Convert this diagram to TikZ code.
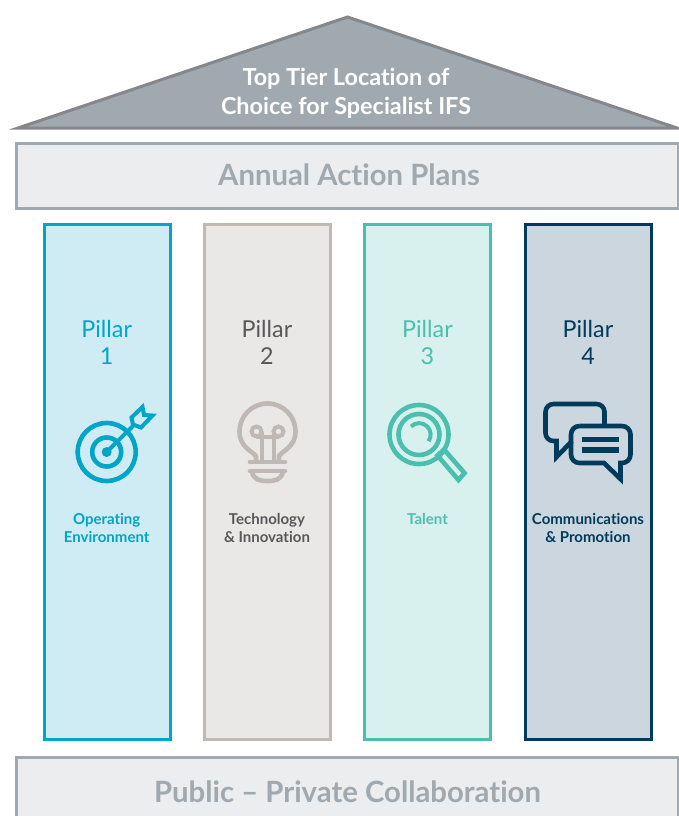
\documentclass[tikz,border=0pt]{standalone}
\usepackage{fontspec}
\setmainfont[RawFeature={-liga}]{Lato}
\usepackage{tikz}
\definecolor{roofline}{HTML}{85878B}
\definecolor{roofgrey}{HTML}{9FA9AF}
\definecolor{bandfill}{HTML}{ECEDEF}
\definecolor{blueline}{HTML}{00A5C8}
\definecolor{bluefill}{HTML}{CFEBF4}
\definecolor{stoneline}{HTML}{BFB8B4}
\definecolor{stonefill}{HTML}{E9E8E7}
\definecolor{stonetext}{HTML}{58585A}
\definecolor{tealline}{HTML}{4BBFAE}
\definecolor{tealfill}{HTML}{D9F1EE}
\definecolor{navyline}{HTML}{003B5C}
\definecolor{navyfill}{HTML}{CCD6DE}
\tikzset{
    node style band/.style={draw=roofgrey,fill=bandfill,line width=3pt,minimum width=662pt,minimum height=65pt,inner sep=0pt},
    node style pillar/.style={line width=3pt,minimum width=126pt,minimum height=515pt,inner sep=0pt},
    node style head/.style={align=center,font=\fontsize{23.3}{27}\selectfont,inner sep=0pt},
    node style sub/.style={align=center,font=\fontsize{15}{18.5}\selectfont\bfseries,inner sep=0pt},
    node style big/.style={text=roofgrey,font=\fontsize{29.3}{34}\selectfont\bfseries,inner sep=0pt},
    icon style/.style={line width=4.6pt,fill=none},
}

\begin{document}
\begin{tikzpicture}[x=1pt,y=1pt]
\useasboundingbox (0,0) rectangle (678,-816);

% roof
\draw [draw=roofline,fill=roofgrey,line width=3pt,line join=miter] (18,-128) -- (347.5,-17) -- (677,-128) -- cycle;
\node [align=center,text=white,font=\fontsize{23.4}{29}\selectfont\bfseries,inner sep=0pt] (roof) at (346,-93) {Top Tier Location of\\Choice for Specialist IFS};

% bands
\node [node style band] (plans) at (347,-176) {};
\node [node style big] (planstext) at (349,-174.5) {Annual Action Plans};
\node [node style band] (collab) at (347,-790) {};
\node [node style big] (collabtext) at (347.5,-792) {Public – Private Collaboration};

% pillars
\node [node style pillar,draw=blueline,fill=bluefill] (pa) at (107,-482) {};
\node [node style pillar,draw=stoneline,fill=stonefill] (pb) at (267.5,-482) {};
\node [node style pillar,draw=tealline,fill=tealfill] (pc) at (427.75,-482) {};
\node [node style pillar,draw=navyline,fill=navyfill] (pd) at (588.25,-482) {};

\node [node style head,text=blueline] (heada) at (106.7,-342.5) {Pillar\\1};
\node [node style head,text=stonetext] (headb) at (267,-342.5) {Pillar\\2};
\node [node style head,text=tealline] (headc) at (427.5,-342.5) {Pillar\\3};
\node [node style head,text=navyline] (headd) at (588,-342.5) {Pillar\\4};

\node [node style sub,text=blueline] (suba) at (106.7,-528) {Operating\\Environment};
\node [node style sub,text=stonetext] (subb) at (267,-528) {Technology\\\& Innovation};
\node [node style sub,text=tealline] (subc) at (427.5,-519) {Talent};
\node [node style sub,text=navyline] (subd) at (588,-528) {Communications\\\& Promotion};

% target
\draw [icon style,draw=blueline] (106.7,-452) circle (29);
\draw [icon style,draw=blueline] (106.7,-452) circle (14.5);
\fill [blueline] (106.7,-452) circle (5);
\draw [line width=4pt,blueline] (106.7,-452) -- (133,-426);
\draw [line width=4pt,blueline,line join=miter] (131.5,-417.5) -- (142.5,-407) -- (144,-415) -- (152.5,-415.5) -- (141,-427.5) -- (133,-424.5) -- cycle;

% bulb
\draw [icon style,draw=stoneline,line join=round] (256,-461) -- (256,-456) .. controls (252,-451) and (239.5,-447) .. (239.5,-431.5)
    arc (180:0:28) .. controls (295.5,-447) and (282,-451) .. (279,-456) -- (279,-461);
\draw [icon style,draw=stoneline,line cap=round] (250,-462) -- (285,-462);
\draw [icon style,draw=stoneline,line cap=round] (250,-471) -- (285,-471);
\draw [icon style,draw=stoneline] (252,-472) .. controls (254,-480) and (260,-481) .. (267.5,-481) .. controls (275,-481) and (281,-480) .. (283,-472);
\draw [line width=4pt,stoneline] (256.5,-431.5) circle (5) (278.5,-431.5) circle (5);
\draw [line width=4pt,stoneline] (256.5,-436.5) -- (278.5,-436.5) (261.5,-431.5) -- (261.5,-461) (273.5,-431.5) -- (273.5,-461);

% magnifier
\draw [icon style,draw=tealline] (419,-434.5) circle (29.5);
\draw [icon style,draw=tealline] (419,-434.5) circle (20.5);
\draw [line width=4pt,tealline] (411,-426.5) arc (135:-35:11.5);
\draw [icon style,draw=tealline,line join=miter] (437.5,-455.5) -- (444,-449.5) -- (464.5,-473) -- (458.5,-480) -- cycle;

% chat bubbles
\draw [icon style,draw=navyline,line join=miter] (604.5,-424) -- (604.5,-412) arc (0:90:8) -- (553.5,-404) arc (90:180:8) -- (545.5,-433) arc (180:270:8) -- (556.5,-441) -- (556.5,-457) -- (572,-441);
\draw [icon style,draw=navyline,line join=miter] (579.5,-426) -- (622,-426) arc (90:0:8.5) -- (630.5,-454.5) arc (0:-90:8.5) -- (620.5,-463) -- (620.5,-479) -- (604,-463) -- (579.5,-463) arc (270:180:8.5) -- (571,-434.5) arc (180:90:8.5);
\draw [line width=5.5pt,navyline] (581.5,-439.5) -- (619,-439.5);
\draw [line width=5.5pt,navyline] (581.5,-450) -- (619,-450);

\end{tikzpicture}
\end{document}
